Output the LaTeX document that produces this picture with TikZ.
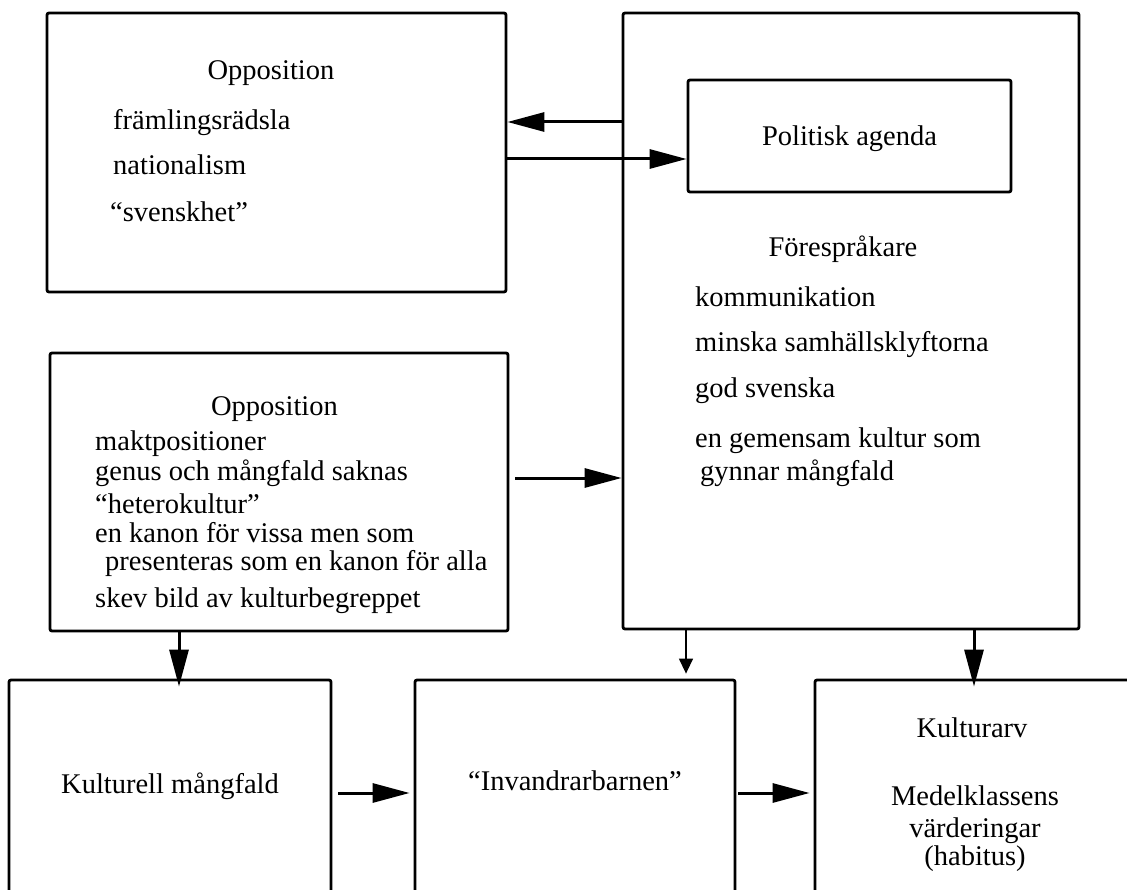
\documentclass[tikz,border=0pt]{standalone}
\usepackage{fontspec}
\setmainfont{Liberation Serif}
\usetikzlibrary{arrows.meta}

\begin{document}
\begin{tikzpicture}[x=1pt, y=-1pt,
    box/.style={draw, line width=2.8pt, rounded corners=2pt, inner sep=0pt},
    txt/.style={font=\fontsize{28.5}{34}\selectfont, inner sep=0pt},
    item/.style={txt, anchor=base west},
    head/.style={txt, anchor=base},
    arr/.style={line width=3pt, -{Triangle[length=37pt,width=19pt]}},
    thinarr/.style={line width=1.4pt, -{Triangle[length=15pt,width=14pt]}}]

  \useasboundingbox (0,0) rectangle (1127,890);
  \clip (0,0) rectangle (1127,890);

  % ---------- boxes ----------
  \node[box, minimum width=459, minimum height=279] (oppTop) at (276.5,152.5) {};
  \node[box, minimum width=456, minimum height=616] (fores)  at (851,321) {};
  \node[box, minimum width=323, minimum height=112] (politik) at (849.5,136) {};
  \node[box, minimum width=458, minimum height=278] (oppMid) at (279,492) {};
  \node[box, minimum width=322, minimum height=280] (mangfald)  at (170,820) {};
  \node[box, minimum width=320, minimum height=280] (invandrar) at (575,820) {};
  \node[box, minimum width=315, minimum height=280] (kulturarv) at (972.5,820) {};

  % ---------- opposition (top) ----------
  \node[head] (oppTopHd) at (271,80) {Opposition};
  \node[item] (oppTop1) at (113,130) {främlingsrädsla};
  \node[item] (oppTop2) at (113,175) {nationalism};
  \node[item] (oppTop3) at (110,222) {“svenskhet”};

  % ---------- politisk agenda / förespråkare ----------
  \node[head] (politikHd) at (849.5,146) {Politisk agenda};
  \node[head] (foresHd) at (843,257) {Förespråkare};
  \node[item] (fores1) at (695,307) {kommunikation};
  \node[item] (fores2) at (695,352) {minska samhällsklyftorna};
  \node[item] (fores3) at (695,398) {god svenska};
  \node[item] (fores4) at (695,447) {en gemensam kultur som};
  \node[item] (fores5) at (700,480) {gynnar mångfald};

  % ---------- opposition (middle) ----------
  \node[head] (oppMidHd) at (274.5,415) {Opposition};
  \node[item] (oppMid1) at (95,450) {maktpositioner};
  \node[item] (oppMid2) at (95,480) {genus och mångfald saknas};
  \node[item] (oppMid3) at (95,513) {“heterokultur”};
  \node[item] (oppMid4) at (95,542) {en kanon för vissa men som};
  \node[item] (oppMid5) at (105,570) {presenteras som en kanon för alla};
  \node[item] (oppMid6) at (95,607) {skev bild av kulturbegreppet};

  % ---------- bottom row ----------
  \node[head] (mangfaldHd) at (170,793) {Kulturell mångfald};
  \node[head] (invandrarHd) at (575,790) {“Invandrarbarnen”};
  \node[head] (kulturarvHd) at (972,737) {Kulturarv};
  \node[head] (kulturarv1) at (975,805) {Medelklassens};
  \node[head] (kulturarv2) at (975,837) {värderingar};
  \node[head] (kulturarv3) at (975,865) {(habitus)};

  % ---------- connectors ----------
  \coordinate (lvlA) at (0,122);
  \coordinate (lvlB) at (0,159);
  \coordinate (midStart) at (515,478);
  \coordinate (colC) at (179,0);
  \coordinate (colE) at (686,0);
  \coordinate (colF) at (974,0);
  \coordinate (lvlD) at (0,793);
  \draw[arr] (fores.west |- lvlA) -- (oppTop.east |- lvlA);
  \draw[arr] (oppTop.east |- lvlB) -- (politik.west |- lvlB);
  \draw[arr] (midStart) -- (midStart -| fores.west);
  \draw[arr] (colC |- oppMid.south) -- ([yshift=-8pt]colC |- mangfald.north);
  \draw[thinarr] (colE |- fores.south) -- ([yshift=5pt]colE |- invandrar.north);
  \draw[arr] (colF |- fores.south) -- ([yshift=-8pt]colF |- kulturarv.north);
  \draw[arr] ([xshift=6pt]mangfald.east |- lvlD) -- ([xshift=-4pt]invandrar.west |- lvlD);
  \draw[arr] ([xshift=2pt]invandrar.east |- lvlD) -- ([xshift=-4pt]kulturarv.west |- lvlD);

\end{tikzpicture}
\end{document}
